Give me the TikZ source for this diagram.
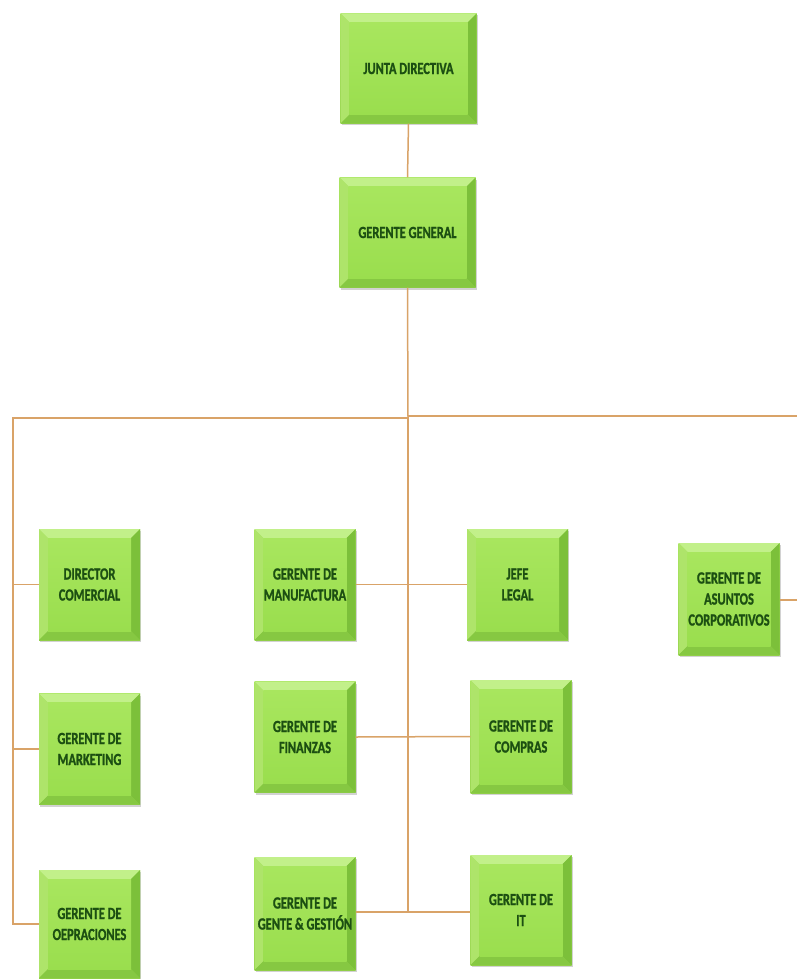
\documentclass[tikz,border=0pt]{standalone}
\usepackage{fontspec}
\setmainfont{Carlito}[FakeStretch=0.73, BoldFeatures={FakeBold=1.2}]
\usetikzlibrary{shadows,calc}
\definecolor{face}{HTML}{9ADE4E}
\definecolor{facetop}{HTML}{A8E65E}
\definecolor{facebot}{HTML}{92D048}
\definecolor{bevtop}{HTML}{C2F08A}
\definecolor{bevleft}{HTML}{AEE46A}
\definecolor{bevright}{HTML}{7CC03A}
\definecolor{bevbot}{HTML}{86C842}
\definecolor{txtgreen}{HTML}{1C4F12}
\definecolor{conn}{HTML}{D9A368}
\tikzset{
  bevbox/.style={
    inner sep=0pt, align=center, text=txtgreen,
    font=\bfseries\fontsize{17}{21}\selectfont,
    top color=facetop, bottom color=facebot,
    drop shadow={shadow xshift=1pt, shadow yshift=-2pt, opacity=0.35, fill=gray},
    path picture={
      \coordinate (nw) at (path picture bounding box.north west);
      \coordinate (ne) at (path picture bounding box.north east);
      \coordinate (sw) at (path picture bounding box.south west);
      \coordinate (se) at (path picture bounding box.south east);
      \fill[bevtop] (nw) -- (ne) -- ($(ne)+(-9pt,-9pt)$) -- ($(nw)+(9pt,-9pt)$) -- cycle;
      \fill[bevleft] (nw) -- (sw) -- ($(sw)+(9pt,9pt)$) -- ($(nw)+(9pt,-9pt)$) -- cycle;
      \fill[bevright] (ne) -- (se) -- ($(se)+(-9pt,9pt)$) -- ($(ne)+(-9pt,-9pt)$) -- cycle;
      \fill[bevbot] (sw) -- (se) -- ($(se)+(-9pt,9pt)$) -- ($(sw)+(9pt,9pt)$) -- cycle;
      \shade[top color=facetop, bottom color=face] ($(nw)+(9pt,-9pt)$) rectangle ($(se)+(-9pt,9pt)$);
    }},
  bigbox/.style={bevbox, minimum width=136pt, minimum height=110pt},
  smallbox/.style={bevbox, minimum width=101pt, minimum height=111pt},
  link/.style={draw=conn, line width=1.5pt}
}
\begin{document}
\begin{tikzpicture}[x=1pt,y=-1pt]
\useasboundingbox[fill=white] (0,0) rectangle (797,979);
% nodes
\node[bigbox] (junta) at (408.5,68.5) {JUNTA DIRECTIVA};
\node[bigbox] (gg) at (407.5,232.5) {GERENTE GENERAL};
\node[smallbox] (dircom) at (89.5,584.5) {DIRECTOR\\COMERCIAL};
\node[smallbox] (mkt) at (89.5,749) {GERENTE DE\\MARKETING};
\node[smallbox, minimum height=108pt] (oper) at (89.5,924) {GERENTE DE\\OEPRACIONES};
\node[smallbox] (manuf) at (305,584.5) {GERENTE DE\\MANUFACTURA};
\node[smallbox] (fin) at (305,737) {GERENTE DE\\FINANZAS};
\node[smallbox, minimum height=113pt] (gente) at (305,913.5) {GERENTE DE\\GENTE \& GESTIÓN};
\node[smallbox] (legal) at (517.5,584.5) {JEFE\\LEGAL};
\node[smallbox, minimum height=113pt] (compras) at (521,736.5) {GERENTE DE\\COMPRAS};
\node[smallbox, minimum height=110pt] (it) at (521,910) {GERENTE DE\\IT};
\node[smallbox, minimum height=112pt] (asuntos) at (729,599) {GERENTE DE\\ASUNTOS\\CORPORATIVOS};
% coordinates
\coordinate (busC) at (408,418);
\coordinate (busL) at (13,418);
\coordinate (busR) at (797,416);
\coordinate (leftEnd) at (13,924);
\coordinate (cEnd) at (408,912);
\coordinate (rA) at (797,600);
% connectors
\draw[link] (junta.south) -- (gg.north);
\draw[link] (gg.south) -- (busC);
\draw[link] (busC) -- (busL) -- (leftEnd) -- (oper.west);
\draw[link] (busL |- dircom.west) -- (dircom.west);
\draw[link] (busL |- mkt.west) -- (mkt.west);
\draw[link] (busC) -- (cEnd);
\draw[link] (busC |- busR) -- (busR);
\draw[link] (manuf.east) -- (legal.west);
\draw[link] (fin.east) -- (compras.west);
\draw[link] (cEnd -| gente.east) -- (cEnd -| it.west);
\draw[link] (asuntos.east |- rA) -- (rA);
\end{tikzpicture}
\end{document}
